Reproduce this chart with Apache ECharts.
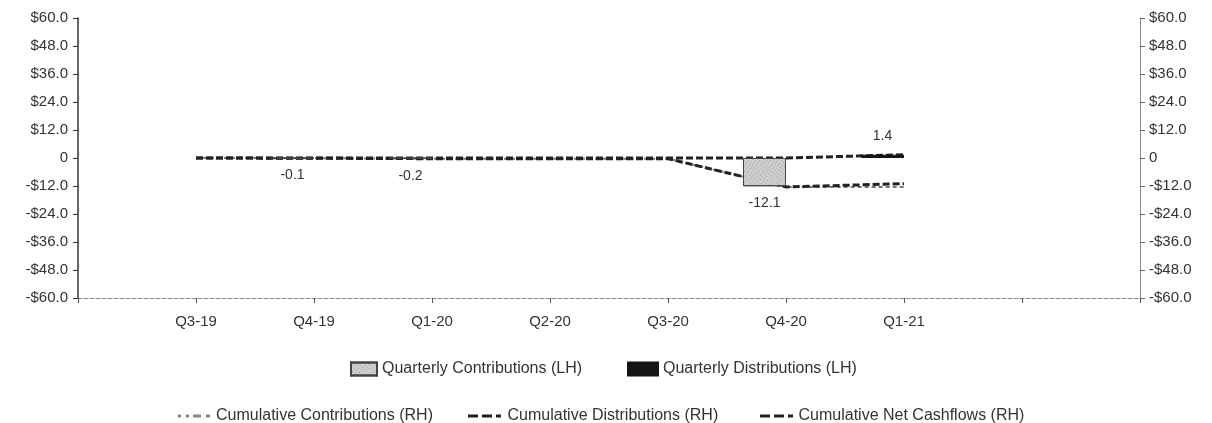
<!DOCTYPE html>
<html>
<head>
<meta charset="utf-8">
<script src="https://cdn.jsdelivr.net/npm/echarts@6/dist/echarts.min.js"></script>
<style>
html,body{margin:0;padding:0;background:#fff;}
#c{width:1212px;height:423px;}
</style>
</head>
<body>
<div id="c"></div>
<script>
const categories = ['', 'Q3-19', 'Q4-19', 'Q1-20', 'Q2-20', 'Q3-20', 'Q4-20', 'Q1-21', '', ''];
const quarterlyContributions = [null, null, -0.1, -0.2, null, null, -12.1, null, null, null];
const quarterlyDistributions = [null, null, null, null, null, null, null, 1.4, null, null];
const cumulativeContributions = [null, 0, -0.1, -0.3, -0.3, -0.3, -12.4, -12.4, null, null];
const cumulativeDistributions = [null, 0, 0, 0, 0, 0, 0, 1.4, null, null];
const cumulativeNet = [null, 0, -0.1, -0.3, -0.3, -0.3, -12.4, -11.0, null, null];
const yTicks = { min: -60, max: 60, interval: 12 };

const FONT = 'Liberation Sans';
const TXT = '#333';

function money(v) {
  if (v === 0) return '0';
  return (v < 0 ? '-$' : '$') + Math.abs(v).toFixed(1);
}

const chart = echarts.init(document.getElementById('c'));
const legendText = { fontFamily: FONT, fontSize: 16, color: TXT };
const dashIcon = 'path://M0,0h10v3h-10z M14,0h10v3h-10z M28,0h5v3h-5z';
const dotDashIcon = 'path://M0,0h3v3h-3z M8,0h3v3h-3z M15,0h8v3h-8z M28,0h4v3h-4z';

chart.setOption({
  animation: false,
  backgroundColor: '#fff',
  grid: { left: 78, right: 72, top: 18, bottom: 125 },
  legend: [
    { data: ['Quarterly Contributions (LH)'], left: 345, top: 356, icon: 'rect', itemWidth: 26, itemHeight: 13, textStyle: legendText },
    { data: ['Quarterly Distributions (LH)'], left: 622, top: 356, icon: 'rect', itemWidth: 30, itemHeight: 13, textStyle: legendText },
    { data: ['Cumulative Contributions (RH)'], left: 173, top: 403, icon: dotDashIcon, itemWidth: 34, itemHeight: 3, textStyle: legendText, itemStyle: { color: '#888' } },
    { data: ['Cumulative Distributions (RH)'], left: 463, top: 403, icon: dashIcon, itemWidth: 36, itemHeight: 3, textStyle: legendText, itemStyle: { color: '#222' } },
    { data: ['Cumulative Net Cashflows (RH)'], left: 755, top: 403, icon: dashIcon, itemWidth: 34, itemHeight: 3, textStyle: legendText, itemStyle: { color: '#222' } }
  ],
  xAxis: {
    type: 'category',
    data: categories,
    boundaryGap: false,
    axisLine: { onZero: false, lineStyle: { color: '#888', width: 1, type: [4, 2] } },
    axisTick: { show: true, length: 5, lineStyle: { color: '#555' } },
    axisLabel: { fontFamily: FONT, fontSize: 15, color: TXT, margin: 16, interval: 0 },
    splitLine: { show: false }
  },
  yAxis: [
    {
      type: 'value', min: yTicks.min, max: yTicks.max, interval: yTicks.interval,
      axisLine: { show: true, lineStyle: { color: '#333', width: 1.5 } },
      axisTick: { show: true, length: 5, lineStyle: { color: '#333' } },
      axisLabel: { fontFamily: FONT, fontSize: 15, color: TXT, margin: 10, formatter: money },
      splitLine: { show: false }
    },
    {
      type: 'value', min: yTicks.min, max: yTicks.max, interval: yTicks.interval,
      position: 'right',
      axisLine: { show: true, lineStyle: { color: '#888', width: 1 } },
      axisTick: { show: true, length: 5, lineStyle: { color: '#666' } },
      axisLabel: { fontFamily: FONT, fontSize: 15, color: TXT, margin: 9, formatter: money },
      splitLine: { show: false }
    }
  ],
  series: [
    {
      name: 'Cumulative Contributions (RH)', type: 'line', yAxisIndex: 1, data: cumulativeContributions,
      symbol: 'none', z: 2,
      lineStyle: { color: '#777', width: 2, type: [4, 3] },
      itemStyle: { color: '#777' }
    },
    {
      name: 'Cumulative Distributions (RH)', type: 'line', yAxisIndex: 1, data: cumulativeDistributions,
      symbol: 'none', z: 2,
      lineStyle: { color: '#222', width: 3, type: [7, 3] },
      itemStyle: { color: '#222' }
    },
    {
      name: 'Cumulative Net Cashflows (RH)', type: 'line', yAxisIndex: 1, data: cumulativeNet,
      symbol: 'none', z: 2,
      lineStyle: { color: '#222', width: 3, type: [7, 3] },
      itemStyle: { color: '#222' }
    },
    {
      name: 'Quarterly Contributions (LH)', type: 'bar', yAxisIndex: 0, stack: 'q', data: quarterlyContributions,
      barWidth: 43, barGap: '0%', z: 3,
      itemStyle: {
        color: '#cfcfcf', borderColor: '#444', borderWidth: 1,
        decal: { symbol: 'rect', symbolSize: 0.8, dashArrayX: [1, 2], dashArrayY: [1, 2], color: 'rgba(60,60,60,0.45)', rotation: 0.6 }
      },
      label: {
        show: true, position: 'bottom', distance: 10,
        fontFamily: FONT, fontSize: 14, color: TXT,
        formatter: p => p.value == null ? '' : p.value.toFixed(1)
      }
    },
    {
      name: 'Quarterly Distributions (LH)', type: 'bar', yAxisIndex: 0, stack: 'q', data: quarterlyDistributions,
      barWidth: 43, barGap: '0%', z: 3,
      itemStyle: { color: '#151515', borderColor: '#151515', borderWidth: 1 },
      label: {
        show: true, position: 'top', distance: 12,
        fontFamily: FONT, fontSize: 14, color: TXT,
        formatter: p => p.value == null ? '' : p.value.toFixed(1)
      }
    },
    {
      name: 'pad', type: 'bar', yAxisIndex: 0, stack: 'pad', data: categories.map(() => null),
      barWidth: 43, barGap: '0%', silent: true, itemStyle: { color: 'transparent' }
    }
  ]
});
</script>
</body>
</html>
